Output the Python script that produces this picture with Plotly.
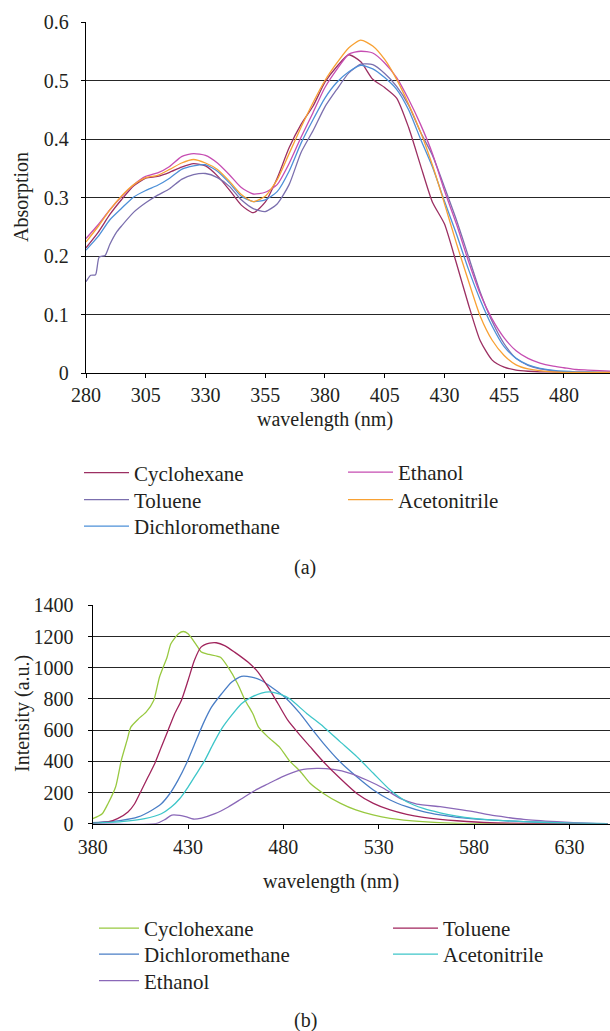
import plotly.graph_objects as go

# ---------------- (a) absorption data ----------------
wl_abs = [280, 285, 290, 295, 300, 305, 310, 315, 320, 325, 330, 335, 340, 345, 350,
          355, 360, 365, 370, 375, 380, 385, 390, 395, 400, 405, 410, 415, 420, 425,
          430, 435, 440, 445, 450, 455, 460, 465, 470, 475, 480, 485, 490, 495, 500]

abs_cyclohexane = [0.214, 0.240, 0.271, 0.297, 0.320, 0.333, 0.336, 0.343, 0.352, 0.358,
                   0.354, 0.337, 0.313, 0.287, 0.274, 0.292, 0.333, 0.385, 0.425, 0.456,
                   0.497, 0.524, 0.544, 0.532, 0.502, 0.488, 0.470, 0.420, 0.355, 0.292,
                   0.255, 0.188, 0.118, 0.055, 0.022, 0.010, 0.005, 0.003, 0.002, 0.002,
                   0.001, 0.001, 0.001, 0.001, 0.001]
abs_dichloromethane = [0.210, 0.233, 0.262, 0.282, 0.301, 0.312, 0.321, 0.333, 0.348, 0.354,
                       0.356, 0.345, 0.325, 0.302, 0.293, 0.296, 0.310, 0.345, 0.393, 0.433,
                       0.470, 0.497, 0.515, 0.526, 0.520, 0.505, 0.485, 0.450, 0.400, 0.352,
                       0.294, 0.238, 0.178, 0.125, 0.080, 0.045, 0.025, 0.014, 0.008, 0.005,
                       0.003, 0.002, 0.002, 0.001, 0.001]
abs_ethanol = [0.230, 0.253, 0.279, 0.302, 0.322, 0.336, 0.342, 0.353, 0.370, 0.375,
               0.372, 0.359, 0.339, 0.317, 0.306, 0.309, 0.322, 0.358, 0.403, 0.445,
               0.488, 0.519, 0.545, 0.550, 0.547, 0.530, 0.505, 0.468, 0.425, 0.375,
               0.312, 0.255, 0.192, 0.135, 0.092, 0.060, 0.038, 0.025, 0.017, 0.012,
               0.009, 0.006, 0.005, 0.004, 0.003]
abs_acetonitrile = [0.224, 0.250, 0.279, 0.303, 0.322, 0.334, 0.338, 0.348, 0.359, 0.365,
                    0.359, 0.348, 0.328, 0.305, 0.293, 0.302, 0.330, 0.375, 0.420, 0.462,
                    0.500, 0.530, 0.556, 0.569, 0.559, 0.536, 0.502, 0.460, 0.412, 0.355,
                    0.290, 0.222, 0.158, 0.097, 0.056, 0.030, 0.014, 0.007, 0.004, 0.002,
                    0.001, 0.001, 0.001, 0.001, 0.001]

wl_abs_toluene = [280, 282, 284, 285.5, 288, 290, 293, 295, 300, 305, 310, 315, 320, 325,
                  330, 335, 340, 345, 350, 355, 360, 365, 370, 375, 380, 385, 390, 395,
                  400, 405, 410, 415, 420, 425, 430, 435, 440, 445, 450, 455, 460, 465,
                  470, 475, 480, 485, 490, 495, 500]
abs_toluene = [0.156, 0.167, 0.168, 0.198, 0.201, 0.220, 0.242, 0.252, 0.275, 0.291,
               0.304, 0.315, 0.331, 0.339, 0.341, 0.334, 0.319, 0.296, 0.281, 0.276,
               0.289, 0.322, 0.377, 0.414, 0.455, 0.485, 0.513, 0.528, 0.527, 0.512,
               0.490, 0.458, 0.412, 0.372, 0.318, 0.262, 0.200, 0.138, 0.088, 0.050,
               0.025, 0.013, 0.007, 0.004, 0.002, 0.001, 0.001, 0.001, 0.001]

# ---------------- (b) emission data ----------------
wl_em_cyclohexane = [380, 385, 388, 392, 395, 398, 400, 404, 408, 412, 415, 419, 421, 425,
                     427.5, 430, 434, 437, 441, 447, 451, 456, 460, 464, 467, 472, 478, 483,
                     489, 494, 501, 510, 518, 527, 536, 553, 571, 590, 620, 650]
em_cyclohexane = [32, 64, 128, 235, 406, 534, 619, 672, 715, 790, 939, 1067, 1153, 1217,
                  1232, 1217, 1153, 1100, 1085, 1067, 1003, 897, 790, 705, 619, 555, 491, 406,
                  333, 259, 194, 130, 88, 56, 34, 13, 2, 0, 0, 0]

wl_em_toluene = [380, 388, 393, 398.5, 402, 405.5, 409, 412.5, 416, 419.5, 423, 426.5, 430,
                 433.3, 436.8, 441.3, 444.8, 449.2, 454.4, 461.4, 466.7, 472, 477.2, 482.4,
                 488.7, 494, 501, 509.7, 518.5, 527.2, 536, 544.7, 553.4, 562.2, 571, 588.4,
                 606, 625, 650]
em_toluene = [4, 11, 32, 75, 128, 213, 299, 384, 491, 598, 705, 790, 918, 1046, 1132, 1157,
              1160, 1142, 1100, 1036, 972, 875, 769, 662, 568, 494, 397, 291, 194, 130, 88,
              60, 41, 28, 19, 6, 2, 0, 0]

wl_em_dichloromethane = [380, 395, 403.8, 410.8, 416, 420.4, 424.7, 429.1, 433.5, 437.9, 442.3,
                         447.6, 452.8, 458, 463.3, 468.5, 473.8, 480.8, 488.7, 494, 501, 509.7,
                         518.5, 527.2, 536, 544.7, 553.4, 562.2, 571, 588.4, 606, 623.4, 640, 650]
em_dichloromethane = [6, 21, 43, 85, 128, 192, 278, 384, 512, 640, 747, 833, 907, 945, 940,
                      918, 875, 811, 707, 622, 515, 397, 301, 216, 152, 109, 77, 56, 41, 24,
                      13, 6, 2, 0]

wl_em_acetonitrile = [380, 395, 407.3, 416, 421.2, 425.6, 430, 434.4, 438.8, 443.2, 447.6,
                      452.8, 458, 463.3, 468.5, 472.9, 478.2, 483.5, 492.2, 501, 509.7, 518.5,
                      527.2, 536, 544.7, 553.4, 562.2, 571, 579.7, 588.4, 606, 623.4, 640, 650]
em_acetonitrile = [4, 13, 32, 64, 107, 160, 235, 320, 406, 512, 608, 694, 769, 811, 837, 845,
                   830, 799, 707, 622, 526, 430, 323, 216, 141, 98, 70, 49, 34, 24, 13, 6, 2, 0]

wl_em_ethanol = [380, 413, 417.8, 421.5, 425.7, 429.2, 432.7, 437.1, 444.1, 451.1, 458.1,
                 465.1, 472.1, 479, 488.7, 497.5, 506.2, 515, 523.7, 532.5, 541.2, 550, 562.2,
                 571, 579.7, 588.4, 597.1, 606, 623.4, 641, 650]
em_ethanol = [0, 0, 26, 55, 53, 43, 30, 36, 64, 107, 160, 213, 256, 299, 344, 355, 348, 323,
              280, 227, 162, 126, 109, 94, 77, 56, 41, 28, 13, 2, 0]

# ---------------- styling ----------------
FONT = "Liberation Serif, Times New Roman, serif"
TXT = "#231f20"
FS = 20
LFS = 21
W, H = 610, 1031


def px_y(p):
    return 1 - p / H


def px_x(p):
    return p / W


fig = go.Figure()

# legend key -> (x of legend box in px, y of row centre in px, itemwidth)
legend_slots = {}


def add(x, y, name, color, xa, ya, legkey, lx, ly, iw):
    fig.add_trace(go.Scatter(x=x, y=y, mode="lines", name=name,
                             line=dict(color=color, width=1.3, shape="spline", smoothing=0.6),
                             xaxis=xa, yaxis=ya, legend=legkey))
    legend_slots[legkey] = (lx, ly, iw)


# top chart traces
add(wl_abs, abs_cyclohexane, "Cyclohexane", "#9c2f62", "x", "y", "legend", 79, 475.5, 45)
add(wl_abs_toluene, abs_toluene, "Toluene", "#7b6fae", "x", "y", "legend2", 79, 502.5, 45)
add(wl_abs, abs_dichloromethane, "Dichloromethane", "#4d90d8", "x", "y", "legend3", 79, 529, 45)
add(wl_abs, abs_ethanol, "Ethanol", "#c64db2", "x", "y", "legend4", 343, 475, 45)
add(wl_abs, abs_acetonitrile, "Acetonitrile", "#f8a133", "x", "y", "legend5", 343, 502.5, 45)

# bottom chart traces
add(wl_em_cyclohexane, em_cyclohexane, "Cyclohexane", "#98c940", "x2", "y2", "legend6", 94, 931, 40)
add(wl_em_dichloromethane, em_dichloromethane, "Dichloromethane", "#4a7ec6", "x2", "y2", "legend7", 94, 957, 40)
add(wl_em_ethanol, em_ethanol, "Ethanol", "#8a68b8", "x2", "y2", "legend8", 94, 983.5, 40)
add(wl_em_toluene, em_toluene, "Toluene", "#a0245c", "x2", "y2", "legend9", 388, 931, 45)
add(wl_em_acetonitrile, em_acetonitrile, "Acetonitrile", "#3ec6c9", "x2", "y2", "legend10", 388, 957, 45)

axis_common = dict(showline=True, linecolor="#000000", linewidth=1.3, zeroline=False,
                   ticks="outside", ticklen=4, tickcolor="#000000", tickwidth=1.2,
                   automargin=False,
                   tickfont=dict(family=FONT, size=FS, color=TXT))

fig.update_layout(
    width=W, height=H, margin=dict(l=0, r=0, t=0, b=0, autoexpand=False),
    paper_bgcolor="white", plot_bgcolor="white",
    font=dict(family=FONT, size=FS, color=TXT),
    xaxis=dict(domain=[px_x(86), 1.0], range=[280, 499.3], tick0=280, dtick=25,
               showgrid=False, anchor="y", ticklabelstandoff=0, **axis_common),
    yaxis=dict(domain=[px_y(373), px_y(22)], range=[0, 0.6], dtick=0.1,
               showgrid=True, gridcolor="#262626", gridwidth=1.1, anchor="x",
               ticklabelstandoff=8, **axis_common),
    xaxis2=dict(domain=[px_x(92.7), 1.0], range=[380, 651.3], tick0=380, dtick=50,
                showgrid=False, anchor="y2", ticklabelstandoff=1, **axis_common),
    yaxis2=dict(domain=[px_y(823.7), px_y(605.3)], range=[0, 1400], dtick=200,
                showgrid=True, gridcolor="#262626", gridwidth=1.1, anchor="x2",
                ticklabelstandoff=10, **axis_common),
    showlegend=True,
)

for key, (lx, ly, iw) in legend_slots.items():
    fig.update_layout({key: dict(x=px_x(lx), y=px_y(ly - 23), itemwidth=iw,
                                 bgcolor="rgba(0,0,0,0)", borderwidth=0,
                                 font=dict(family=FONT, size=LFS, color=TXT),
                                 xanchor="left", yanchor="top", orientation="v")})

annos = [
    dict(text="Absorption", x=px_x(22), y=px_y(197), textangle=-90),
    dict(text="wavelength (nm)", x=px_x(325), y=px_y(420)),
    dict(text="(a)", x=px_x(305), y=px_y(567)),
    dict(text="Intensity (a.u.)", x=px_x(22), y=px_y(714), textangle=-90),
    dict(text="wavelength (nm)", x=px_x(331), y=px_y(881)),
    dict(text="(b)", x=px_x(305), y=px_y(1020)),
]
for a in annos:
    fig.add_annotation(xref="paper", yref="paper", showarrow=False,
                       xanchor="center", yanchor="middle",
                       font=dict(family=FONT, size=FS, color=TXT), **a)

fig.write_html("out.html")
